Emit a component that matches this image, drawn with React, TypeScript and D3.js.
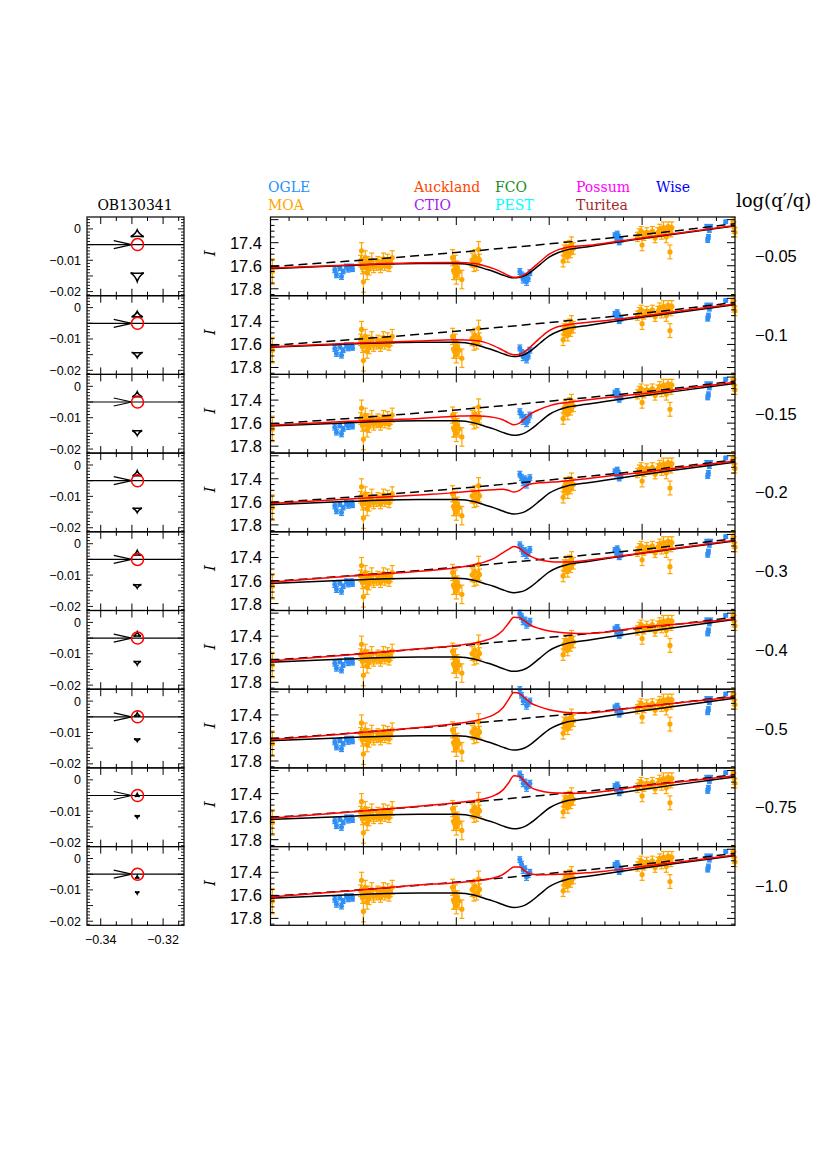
import React from 'react';
import * as d3 from 'd3';

// ---------------- DATA ----------------
const eventName = 'OB130341';
const paramTitle = 'log(q\u2032/q)';
const panelValues = ['\u22120.05', '\u22120.1', '\u22120.15', '\u22120.2', '\u22120.3', '\u22120.4', '\u22120.5', '\u22120.75', '\u22121.0'];

const legendRow1 = ['OGLE', 'Auckland', 'FCO', 'Possum', 'Wise'];
const legendRow1Colors = ['#1e90ff', '#ff4500', '#228b22', '#ff00ff', '#0000ff'];
const legendRow2 = ['MOA', 'CTIO', 'PEST', 'Turitea'];
const legendRow2Colors = ['#ffa500', '#a020f0', '#00ffff', '#a52a2a'];

// right panel: time axis (no labels) and magnitude ticks
const timeDomain = [0, 25];
const magDomain = [17.86, 17.177];
const magTickLabels = [17.4, 17.6, 17.8];

// left panel axes
const leftXDomain = [-0.3444, -0.3133];
const leftYDomain = [-0.0213, 0.0038];
const leftYTickLabels = [0, -0.01, -0.02];
const leftXTickLabels = [-0.34, -0.32];

// model curves
const modelT = [0, 4, 8, 10, 11, 11.5, 12, 12.5, 12.8, 13.1, 13.4, 13.7, 14, 14.5, 15, 15.5, 16, 17, 18, 20, 22, 25];
const blackModel = [17.625, 17.598, 17.58, 17.58, 17.60, 17.625, 17.65, 17.68, 17.697, 17.705, 17.70, 17.685, 17.655, 17.59, 17.525, 17.485, 17.46, 17.437, 17.412, 17.364, 17.32, 17.255];
const redModels = [
  [17.62, 17.595, 17.575, 17.572, 17.58, 17.60, 17.625, 17.66, 17.685, 17.70, 17.695, 17.675, 17.635, 17.565, 17.50, 17.46, 17.44, 17.425, 17.405, 17.36, 17.315, 17.25],
  [17.62, 17.592, 17.57, 17.56, 17.565, 17.58, 17.61, 17.65, 17.675, 17.69, 17.685, 17.66, 17.62, 17.545, 17.48, 17.445, 17.43, 17.41, 17.395, 17.355, 17.31, 17.248],
  [17.618, 17.585, 17.56, 17.54, 17.535, 17.54, 17.55, 17.57, 17.595, 17.615, 17.60, 17.56, 17.52, 17.48, 17.45, 17.43, 17.42, 17.40, 17.38, 17.345, 17.305, 17.245],
  [17.615, 17.578, 17.54, 17.52, 17.505, 17.50, 17.495, 17.49, 17.50, 17.515, 17.50, 17.465, 17.445, 17.435, 17.43, 17.425, 17.418, 17.40, 17.38, 17.345, 17.305, 17.245],
  [17.615, 17.565, 17.52, 17.49, 17.46, 17.44, 17.41, 17.36, 17.33, 17.305, 17.32, 17.36, 17.39, 17.42, 17.435, 17.44, 17.44, 17.425, 17.405, 17.36, 17.315, 17.25],
  [17.615, 17.565, 17.51, 17.48, 17.46, 17.44, 17.41, 17.35, 17.29, 17.235, 17.24, 17.27, 17.305, 17.335, 17.355, 17.365, 17.372, 17.377, 17.365, 17.32, 17.295, 17.25],
  [17.615, 17.565, 17.51, 17.475, 17.45, 17.43, 17.40, 17.34, 17.27, 17.205, 17.215, 17.255, 17.295, 17.33, 17.355, 17.37, 17.38, 17.385, 17.37, 17.33, 17.295, 17.245],
  [17.615, 17.565, 17.51, 17.48, 17.46, 17.445, 17.42, 17.37, 17.31, 17.245, 17.25, 17.30, 17.345, 17.375, 17.39, 17.395, 17.398, 17.395, 17.38, 17.335, 17.30, 17.245],
  [17.615, 17.565, 17.51, 17.49, 17.475, 17.465, 17.45, 17.42, 17.385, 17.355, 17.355, 17.39, 17.415, 17.422, 17.42, 17.418, 17.415, 17.405, 17.39, 17.35, 17.31, 17.25],
];
const dashT = [0, 5, 10, 15, 20, 25];
const dashMag = [17.608, 17.55, 17.485, 17.41, 17.33, 17.235];

// OGLE data (same in all panels)
const ogleT = [3.46, 3.55, 3.73, 3.82, 3.91, 4.09, 4.18, 4.36, 4.41, 18.54, 18.63, 18.66, 18.72, 18.77, 18.86, 23.48, 23.53, 23.57, 23.62, 23.69, 24.5];
const ogleMag = [17.635, 17.678, 17.62, 17.693, 17.65, 17.606, 17.63, 17.606, 17.63, 17.334, 17.363, 17.32, 17.349, 17.398, 17.377, 17.262, 17.377, 17.349, 17.29, 17.262, 17.219];
const ogleErr = [0.025, 0.025, 0.02, 0.025, 0.02, 0.02, 0.025, 0.02, 0.02, 0.02, 0.02, 0.02, 0.02, 0.02, 0.02, 0.02, 0.02, 0.02, 0.02, 0.02, 0.015];
// OGLE anomaly points (differ per panel fit)
const ogleAnomT = [13.42, 13.51, 13.6, 13.69, 13.78, 13.87, 13.96];
const ogleAnomMag = [
  [17.65, 17.68, 17.72, 17.69, 17.74, 17.71, 17.66],
  [17.63, 17.67, 17.71, 17.68, 17.73, 17.70, 17.65],
  [17.50, 17.53, 17.58, 17.55, 17.60, 17.57, 17.53],
  [17.36, 17.39, 17.43, 17.40, 17.45, 17.42, 17.39],
  [17.29, 17.32, 17.36, 17.34, 17.38, 17.36, 17.33],
  [17.20, 17.23, 17.27, 17.26, 17.30, 17.29, 17.27],
  [17.18, 17.23, 17.28, 17.27, 17.32, 17.30, 17.28],
  [17.23, 17.26, 17.31, 17.30, 17.35, 17.33, 17.31],
  [17.29, 17.33, 17.38, 17.37, 17.44, 17.42, 17.40],
];
const ogleAnomErr = [0.025, 0.025, 0.03, 0.025, 0.03, 0.025, 0.025];

// MOA data
const moaT = [0.1,
  4.85, 4.9, 4.95, 5.0, 5.05, 5.1, 5.15, 5.2, 5.25, 5.3, 5.38, 5.45, 5.55,
  5.7, 5.78, 5.85, 5.92, 6.0, 6.08, 6.15, 6.22, 6.3, 6.38, 6.45, 6.55,
  9.8, 9.85, 9.9, 9.95, 10.0, 10.05, 10.15, 10.3, 10.85, 10.95, 11.0, 11.1, 11.2, 11.25,
  15.75, 15.8, 15.85, 15.9, 15.95, 16.0, 16.05, 16.1, 16.15, 16.2, 16.3,
  19.75, 19.85, 19.95, 20.0, 20.1, 20.25, 20.4, 20.55, 20.7, 20.85, 20.95, 21.05, 21.15, 21.25, 21.3, 21.4, 21.45, 21.5, 21.55, 21.6,
  24.9, 24.95, 25.0];
const moaMag = [17.65,
  17.56, 17.47, 17.62, 17.74, 17.58, 17.53, 17.61, 17.66, 17.57, 17.63, 17.59, 17.55, 17.61,
  17.60, 17.56, 17.59, 17.62, 17.57, 17.54, 17.60, 17.58, 17.55, 17.61, 17.57, 17.53,
  17.53, 17.64, 17.66, 17.58, 17.69, 17.62, 17.65, 17.72, 17.55, 17.60, 17.52, 17.58, 17.46, 17.55,
  17.56, 17.47, 17.50, 17.44, 17.48, 17.52, 17.46, 17.43, 17.49, 17.41, 17.45,
  17.35, 17.32, 17.30, 17.42, 17.34, 17.31, 17.33, 17.30, 17.36, 17.31, 17.28, 17.33, 17.27, 17.30, 17.35, 17.26, 17.29, 17.48, 17.31, 17.27,
  17.22, 17.27, 17.31];
const moaErr = [0.11,
  0.05, 0.07, 0.05, 0.09, 0.05, 0.06, 0.05, 0.06, 0.05, 0.05, 0.05, 0.06, 0.05,
  0.04, 0.04, 0.04, 0.04, 0.04, 0.05, 0.04, 0.04, 0.05, 0.04, 0.04, 0.06,
  0.07, 0.08, 0.06, 0.07, 0.07, 0.06, 0.07, 0.08, 0.06, 0.05, 0.06, 0.06, 0.07, 0.05,
  0.05, 0.05, 0.04, 0.05, 0.04, 0.05, 0.04, 0.05, 0.04, 0.06, 0.05,
  0.04, 0.04, 0.04, 0.05, 0.04, 0.04, 0.03, 0.04, 0.04, 0.04, 0.04, 0.04, 0.05, 0.04, 0.05, 0.04, 0.04, 0.06, 0.04, 0.05,
  0.04, 0.05, 0.04];

// left panel geometry (caustics, source)
const sourceX = -0.3282;
const sourceY = -0.005;
const arrowTipX = -0.33005;
const causticX = -0.3283;
const topCausticApex = [-0.0003, -0.0012, -0.0017, -0.0018, -0.0022, -0.0030, -0.0037, -0.0044, -0.0055];
const topCausticBase = [-0.0025, -0.0030, -0.0034, -0.0035, -0.0037, -0.0044, -0.0048, -0.0053, -0.0063];
const topCausticWidth = [0.0042, 0.0036, 0.0032, 0.0030, 0.0027, 0.0024, 0.0020, 0.0016, 0.0014];
const botCausticBase = [-0.0140, -0.0143, -0.0141, -0.0137, -0.0130, -0.0124, -0.0120, -0.0114, -0.0106];
const botCausticCusp = [-0.0168, -0.0160, -0.0157, -0.0152, -0.0142, -0.0136, -0.0129, -0.0122, -0.0113];
const botCausticWidth = [0.0042, 0.0036, 0.0032, 0.0030, 0.0027, 0.0024, 0.0020, 0.0017, 0.0014];

// ---------------- LAYOUT ----------------
const W = 830;
const H = 1175;
const PANEL_TOP = 217;
const PANEL_H = 78.7;
const RX0 = 270.5;
const RX1 = 735;
const LX0 = 87;
const LX1 = 184;
const OGLE_COLOR = '#2f8ff5';
const MOA_COLOR = '#ffa500';
const NUM_FONT = 'Liberation Sans, Arial, sans-serif';
const SERIF_FONT = 'DejaVu Serif, serif';

const xR = d3.scaleLinear().domain(timeDomain).range([RX0, RX1]);
const xL = d3.scaleLinear().domain(leftXDomain).range([LX0, LX1]);

function fmtLeft(v: number) {
  if (Math.abs(v) < 1e-9) return '0';
  return '\u2212' + Math.abs(v).toFixed(2);
}

function ErrPoint({ x, y, y1, y2, color, r }: any) {
  return (
    <g>
      <line x1={x} x2={x} y1={y1} y2={y2} stroke={color} strokeWidth={1.2} />
      <line x1={x - 2.5} x2={x + 2.5} y1={y1} y2={y1} stroke={color} strokeWidth={1.2} />
      <line x1={x - 2.5} x2={x + 2.5} y1={y2} y2={y2} stroke={color} strokeWidth={1.2} />
      <circle cx={x} cy={y} r={r} fill={color} />
    </g>
  );
}

function RightPanel({ i }: { i: number }) {
  const top = PANEL_TOP + i * PANEL_H;
  const bottom = top + PANEL_H;
  const y = d3.scaleLinear().domain(magDomain).range([bottom, top]);
  const line = d3.line<[number, number]>().x(d => xR(d[0])).y(d => y(d[1])).curve(d3.curveMonotoneX);
  const blackPath = line(modelT.map((t, k) => [t, blackModel[k]]) as [number, number][]) || '';
  const redPath = line(modelT.map((t, k) => [t, redModels[i][k]]) as [number, number][]) || '';
  const dashPath = line(dashT.map((t, k) => [t, dashMag[k]]) as [number, number][]) || '';

  const xTicks = d3.range(1, 25);
  const yTicks = d3.range(0, 14).map(k => ({ v: 17.2 + 0.05 * k, major: k % 4 === 0 }));

  return (
    <g>
      {moaT.map((t, k) => (
        <ErrPoint key={'m' + k} x={xR(t)} y={y(moaMag[k])} y1={y(moaMag[k] - moaErr[k])} y2={y(moaMag[k] + moaErr[k])} color={MOA_COLOR} r={2.6} />
      ))}
      {ogleT.map((t, k) => (
        <ErrPoint key={'o' + k} x={xR(t)} y={y(ogleMag[k])} y1={y(ogleMag[k] - ogleErr[k])} y2={y(ogleMag[k] + ogleErr[k])} color={OGLE_COLOR} r={2.5} />
      ))}
      {ogleAnomT.map((t, k) => (
        <ErrPoint key={'a' + k} x={xR(t)} y={y(ogleAnomMag[i][k])} y1={y(ogleAnomMag[i][k] - ogleAnomErr[k])} y2={y(ogleAnomMag[i][k] + ogleAnomErr[k])} color={OGLE_COLOR} r={2.5} />
      ))}
      <path d={dashPath} fill="none" stroke="#000" strokeWidth={1.5} strokeDasharray="9,5" />
      <path d={blackPath} fill="none" stroke="#000" strokeWidth={1.5} />
      <path d={redPath} fill="none" stroke="#ff0000" strokeWidth={1.5} />
      <rect x={RX0} y={top} width={RX1 - RX0} height={PANEL_H} fill="none" stroke="#000" strokeWidth={1.2} />
      {xTicks.map(t => {
        const len = t % 5 === 0 ? 8 : 4;
        return (
          <g key={'xt' + t}>
            <line x1={xR(t)} x2={xR(t)} y1={top} y2={top + len} stroke="#000" strokeWidth={1} />
            <line x1={xR(t)} x2={xR(t)} y1={bottom} y2={bottom - len} stroke="#000" strokeWidth={1} />
          </g>
        );
      })}
      {yTicks.map((tk, k) => {
        const len = tk.major ? 8 : 4;
        const yy = y(tk.v);
        return (
          <g key={'yt' + k}>
            <line x1={RX0} x2={RX0 + len} y1={yy} y2={yy} stroke="#000" strokeWidth={1} />
            <line x1={RX1} x2={RX1 - len} y1={yy} y2={yy} stroke="#000" strokeWidth={1} />
          </g>
        );
      })}
      {magTickLabels.map(v => (
        <text key={'yl' + v} x={262} y={y(v) + 6} textAnchor="end" fontFamily={NUM_FONT} fontSize={16.5}>{v.toFixed(1)}</text>
      ))}
      <text transform={`translate(215, ${top + PANEL_H / 2 - 3}) rotate(-90)`} textAnchor="middle" fontFamily={SERIF_FONT} fontStyle="italic" fontSize={15}>I</text>
      <text x={755} y={top + PANEL_H / 2 + 6} fontFamily={NUM_FONT} fontSize={16.5}>{panelValues[i]}</text>
    </g>
  );
}

function causticPath(cx: number, yApex: number, yBase: number, halfW: number) {
  const L = [cx - halfW, yBase];
  const R = [cx + halfW, yBase];
  const A = [cx, yApex];
  const C = [cx, (2 * yBase + yApex) / 3];
  const ctrl = (P: number[], Q: number[], f: number) => {
    const mx = (P[0] + Q[0]) / 2, my = (P[1] + Q[1]) / 2;
    return [mx + (C[0] - mx) * f, my + (C[1] - my) * f];
  };
  const c1 = ctrl(L, R, 0.35);
  const c2 = ctrl(R, A, 0.55);
  const c3 = ctrl(A, L, 0.55);
  return `M${L[0]},${L[1]} Q${c1[0]},${c1[1]} ${R[0]},${R[1]} Q${c2[0]},${c2[1]} ${A[0]},${A[1]} Q${c3[0]},${c3[1]} ${L[0]},${L[1]} Z`;
}

function LeftPanel({ i }: { i: number }) {
  const top = PANEL_TOP + i * PANEL_H;
  const bottom = top + PANEL_H;
  const y = d3.scaleLinear().domain(leftYDomain).range([bottom, top]);
  const xTicks = d3.range(0, 6).map(k => ({ v: -0.34 + 0.005 * k, major: k % 2 === 0 }));
  const yTicks = d3.range(-21, 4).map(k => ({ v: k * 0.001, major: k % 5 === 0 }));
  const sy = y(sourceY);
  const tipX = xL(arrowTipX);
  const cxp = xL(causticX);
  const topHalf = (xL(causticX + topCausticWidth[i] / 2) - cxp);
  const botHalf = (xL(causticX + botCausticWidth[i] / 2) - cxp);
  return (
    <g>
      <line x1={LX0} x2={LX1} y1={sy} y2={sy} stroke="#000" strokeWidth={1.2} />
      <path d={`M${tipX - 18},${sy - 4} L${tipX},${sy} L${tipX - 18},${sy + 4}`} fill="none" stroke="#000" strokeWidth={1.2} />
      <path d={causticPath(cxp, y(topCausticApex[i]), y(topCausticBase[i]), topHalf)} fill="none" stroke="#000" strokeWidth={1.5} />
      <path d={causticPath(cxp, y(botCausticCusp[i]), y(botCausticBase[i]), botHalf)} fill="none" stroke="#000" strokeWidth={1.5} />
      <circle cx={xL(sourceX)} cy={sy} r={6} fill="none" stroke="#ff0000" strokeWidth={1.5} />
      <rect x={LX0} y={top} width={LX1 - LX0} height={PANEL_H} fill="none" stroke="#000" strokeWidth={1.2} />
      {xTicks.map((tk, k) => {
        const len = tk.major ? 7 : 4;
        const xx = xL(tk.v);
        return (
          <g key={'lx' + k}>
            <line x1={xx} x2={xx} y1={top} y2={top + len} stroke="#000" strokeWidth={1} />
            <line x1={xx} x2={xx} y1={bottom} y2={bottom - len} stroke="#000" strokeWidth={1} />
          </g>
        );
      })}
      {yTicks.map((tk, k) => {
        const len = tk.major ? 6 : 3;
        const yy = y(tk.v);
        return (
          <g key={'ly' + k}>
            <line x1={LX0} x2={LX0 + len} y1={yy} y2={yy} stroke="#000" strokeWidth={0.9} />
            <line x1={LX1} x2={LX1 - len} y1={yy} y2={yy} stroke="#000" strokeWidth={0.9} />
          </g>
        );
      })}
      {leftYTickLabels.map(v => (
        <text key={'lyl' + v} x={81} y={y(v) + 4.5} textAnchor="end" fontFamily={NUM_FONT} fontSize={12.5}>{fmtLeft(v)}</text>
      ))}
      {i === 8 && leftXTickLabels.map(v => (
        <text key={'lxl' + v} x={xL(v)} y={bottom + 19} textAnchor="middle" fontFamily={NUM_FONT} fontSize={12.5}>{fmtLeft(v)}</text>
      ))}
    </g>
  );
}

export default function App() {
  const panels = d3.range(panelValues.length);
  const legendX = [268, 414, 495, 576, 656];
  return (
    <svg width={W} height={H} style={{ position: 'absolute', left: 0, top: 0, background: '#fff' }}>
      <rect x={0} y={0} width={W} height={H} fill="#fff" />
      {legendRow1.map((s, k) => (
        <text key={'l1' + s} x={legendX[k]} y={192} fill={legendRow1Colors[k]} fontFamily={SERIF_FONT} fontSize={14}>{s}</text>
      ))}
      {legendRow2.map((s, k) => (
        <text key={'l2' + s} x={legendX[k]} y={210} fill={legendRow2Colors[k]} fontFamily={SERIF_FONT} fontSize={14}>{s}</text>
      ))}
      <text x={135} y={210} textAnchor="middle" fontFamily={SERIF_FONT} fontSize={14}>{eventName}</text>
      <text x={736} y={207} fontFamily={SERIF_FONT} fontSize={18}>{paramTitle}</text>
      {panels.map(i => <LeftPanel key={'L' + i} i={i} />)}
      {panels.map(i => <RightPanel key={'R' + i} i={i} />)}
    </svg>
  );
}
